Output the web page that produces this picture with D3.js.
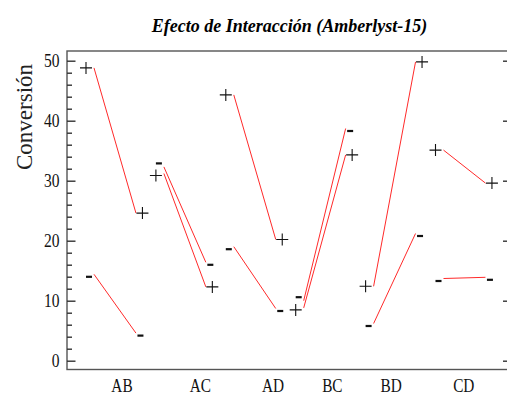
<!DOCTYPE html>
<html>
<head>
<meta charset="utf-8">
<script src="https://cdn.jsdelivr.net/npm/d3@7"></script>
<style>
  html, body { margin: 0; padding: 0; background: #fff; }
  svg { display: block; }
</style>
</head>
<body>
<svg id="chart" width="507" height="396"></svg>
<script>
// ---- data ----
const pairs = ["AB", "AC", "AD", "BC", "BD", "CD"];
const plusLow   = [48.8, 31.2, 44.3,  8.8, 12.4, 35.1];
const plusHigh  = [24.6, 12.3, 20.2, 34.3, 49.8, 29.6];
const minusLow  = [14.4, 32.3, 19.0, 10.0,  6.2, 13.7];
const minusHigh = [ 4.6, 16.4,  8.7, 38.7, 21.2, 13.9];
const pairLabelAt = [0.40, 1.52, 2.56, 3.41, 4.25, 5.29];
const yMajor = [0, 10, 20, 30, 40, 50];
const yMinor = d3.range(0, 51, 2);
const title = "Efecto de Interacción (Amberlyst-15)";
const yTitle = "Conversión";

// ---- layout ----
const svg = d3.select("#chart");
const frame = { left: 67, right: 510, top: 51, bottom: 369.5 };
const x = d3.scaleLinear().domain([0, 6]).range([94, 94 + 6 * 69.9]);
const y = d3.scaleLinear().domain([0, 50]).range([360.7, 60.7]);
const span = 0.6;
const serif = "'Liberation Serif', 'Times New Roman', serif";

// title
svg.append("text")
  .attr("x", 289.5).attr("y", 32)
  .attr("text-anchor", "middle")
  .attr("font-family", serif).attr("font-size", 18)
  .attr("font-weight", "bold").attr("font-style", "italic")
  .attr("fill", "#000")
  .text(title);

// y title
svg.append("text")
  .attr("transform", "translate(31.5,117) rotate(-90)")
  .attr("text-anchor", "middle")
  .attr("font-family", serif).attr("font-size", 23)
  .attr("fill", "#222")
  .text(yTitle);

// frame
const axisColor = "#555";
svg.append("rect")
  .attr("x", frame.left).attr("y", frame.top)
  .attr("width", frame.right - frame.left).attr("height", frame.bottom - frame.top)
  .attr("fill", "none").attr("stroke", axisColor).attr("stroke-width", 1.4);

// left axis ticks (inward)
const leftAxisMinor = d3.axisRight(y).tickValues(yMinor.filter(v => !yMajor.includes(v)))
  .tickSize(5).tickFormat("");
const leftAxisMajor = d3.axisRight(y).tickValues(yMajor).tickSize(8.5).tickFormat("");
[leftAxisMinor, leftAxisMajor].forEach(ax => {
  const g = svg.append("g").attr("transform", `translate(${frame.left},0)`).call(ax);
  g.select(".domain").remove();
  g.selectAll("line").attr("stroke", "#333").attr("stroke-width", 1.4);
});

// right axis ticks (inward)
const rightAxis = d3.axisLeft(y).tickValues(yMajor).tickSize(7).tickFormat("");
const gr = svg.append("g").attr("transform", `translate(${frame.right},0)`).call(rightAxis);
gr.select(".domain").remove();
gr.selectAll("line").attr("stroke", "#333").attr("stroke-width", 1.4);

// y tick labels
svg.append("g").selectAll("text").data(yMajor).join("text")
  .attr("transform", d => `translate(59.5,${y(d)}) scale(0.82,1)`)
  .attr("dy", "0.34em")
  .attr("text-anchor", "end")
  .attr("font-family", serif).attr("font-size", 19)
  .attr("fill", "#111")
  .text(d => d);

// x category labels
svg.append("g").selectAll("text").data(pairs).join("text")
  .attr("transform", (d, i) => `translate(${x(pairLabelAt[i])},392) scale(0.85,1)`)
  .attr("text-anchor", "middle")
  .attr("font-family", serif).attr("font-size", 18)
  .attr("fill", "#111")
  .text(d => d);

// lines
const series = [
  { sign: "+", low: plusLow, high: plusHigh },
  { sign: "-", low: minusLow, high: minusHigh }
];
const lineGen = d3.line().x(d => x(d[0])).y(d => y(d[1]));
series.forEach(s => {
  svg.append("g").selectAll("path").data(pairs).join("path")
    .attr("d", (d, i) => lineGen([[i, s.low[i]], [i + span, s.high[i]]]))
    .attr("fill", "none").attr("stroke", "#ff2a2a").attr("stroke-width", 1);
});

// markers
function drawPlus(g, cx, cy) {
  g.append("path")
    .attr("d", `M${cx - 6},${cy}H${cx + 6}M${cx},${cy - 6}V${cy + 6}`)
    .attr("stroke", "#111").attr("stroke-width", 1.1).attr("fill", "none");
}
function drawMinus(g, cx, cy) {
  g.append("rect").attr("x", cx - 3).attr("y", cy - 1.1)
    .attr("width", 6).attr("height", 2.2).attr("fill", "#111");
}
const mg = svg.append("g");
pairs.forEach((p, i) => {
  // left end, with simple collision separation
  const close = Math.abs(plusLow[i] - minusLow[i]) < 2;
  const plusUpper = plusLow[i] > minusLow[i];
  let pn = 0, mn = 0;
  if (close) {
    if (plusUpper) { pn = -4; mn = 3; } else { mn = -6; pn = 2; }
  }
  drawPlus(mg, x(i) - 8, y(plusLow[i]) + pn);
  drawMinus(mg, x(i) - 5, y(minusLow[i]) + 2.5 + mn);
  drawPlus(mg, x(i + span) + 6.5, y(plusHigh[i]));
  drawMinus(mg, x(i + span) + 4.5, y(minusHigh[i]) + 2.5);
});
</script>
</body>
</html>
